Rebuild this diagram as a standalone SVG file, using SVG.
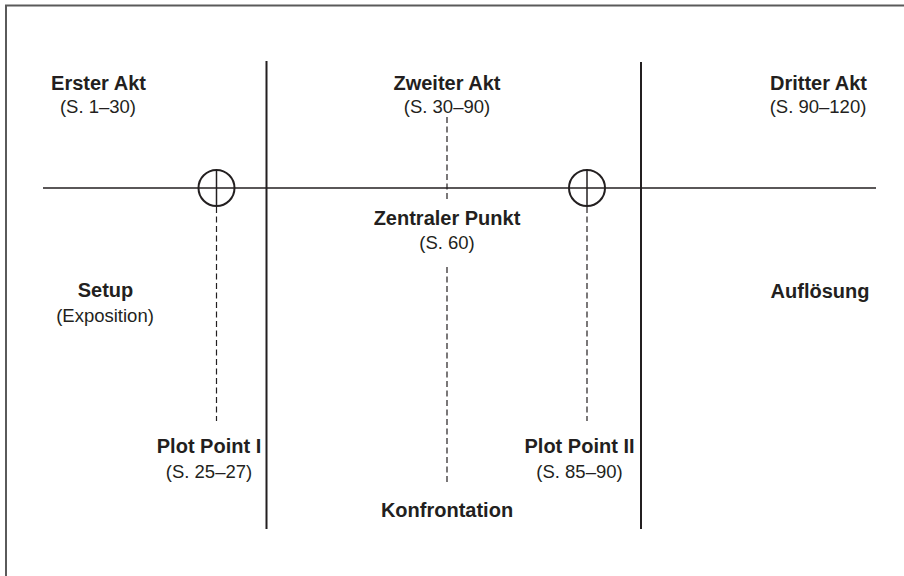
<svg xmlns="http://www.w3.org/2000/svg" width="904" height="576" viewBox="0 0 904 576">
  <style>
    .frame { stroke: #5a5a5a; stroke-width: 2; fill: none; }
    .axis { stroke: #231f20; stroke-width: 1.6; fill: none; }
    .act { stroke: #231f20; stroke-width: 2; fill: none; }
    .dash { stroke: #231f20; stroke-width: 1.2; stroke-dasharray: 6 3.5; fill: none; }
    .tick { stroke: #231f20; stroke-width: 1.5; fill: none; }
    .ring { stroke: #231f20; stroke-width: 2; fill: none; }
    text { font-family: "Liberation Sans", Arial, sans-serif; fill: #231f20; text-anchor: middle; }
    .h { font-weight: bold; font-size: 20px; }
    .s { font-size: 18.5px; }
  </style>
  <rect width="904" height="576" fill="#ffffff"/>

  <!-- outer frame (top and left edges) -->
  <g id="frame">
    <line class="frame" x1="5" y1="5.5" x2="904" y2="5.5"/>
    <line class="frame" x1="6" y1="5" x2="6" y2="576"/>
  </g>

  <!-- timeline, act boundaries and marker lines -->
  <g id="connectors">
    <line class="axis" x1="43" y1="188" x2="876" y2="188"/>
    <line class="act" x1="266.5" y1="61" x2="266.5" y2="529"/>
    <line class="act" x1="641" y1="62" x2="641" y2="529"/>
    <line class="dash" x1="447" y1="117" x2="447" y2="201"/>
    <line class="dash" x1="447" y1="267" x2="447" y2="483"/>
    <line class="dash" x1="216.5" y1="207" x2="216.5" y2="421"/>
    <line class="dash" x1="587" y1="207" x2="587" y2="421"/>
  </g>

  <!-- plot point markers -->
  <g id="plot-point-1-marker">
    <circle class="ring" cx="216.5" cy="188" r="18"/>
    <line class="tick" x1="216.5" y1="170" x2="216.5" y2="206"/>
  </g>
  <g id="plot-point-2-marker">
    <circle class="ring" cx="587" cy="188" r="18"/>
    <line class="tick" x1="587" y1="170" x2="587" y2="206"/>
  </g>

  <g id="act-1">
    <text class="h" x="98.5" y="90">Erster Akt</text>
    <text class="s" x="98" y="113">(S. 1–30)</text>
  </g>
  <g id="act-2">
    <text class="h" x="447" y="90">Zweiter Akt</text>
    <text class="s" x="447" y="113">(S. 30–90)</text>
  </g>
  <g id="act-3">
    <text class="h" x="818.5" y="90">Dritter Akt</text>
    <text class="s" x="818" y="113">(S. 90–120)</text>
  </g>
  <g id="midpoint">
    <text class="h" x="447" y="225">Zentraler Punkt</text>
    <text class="s" x="447" y="249">(S. 60)</text>
  </g>
  <g id="setup">
    <text class="h" x="105.5" y="297">Setup</text>
    <text class="s" x="105" y="322">(Exposition)</text>
  </g>
  <g id="resolution">
    <text class="h" x="820" y="298">Auflösung</text>
  </g>
  <g id="plot-point-1">
    <text class="h" x="209" y="453">Plot Point I</text>
    <text class="s" x="209" y="478">(S. 25–27)</text>
  </g>
  <g id="plot-point-2">
    <text class="h" x="579.5" y="453">Plot Point II</text>
    <text class="s" x="579.5" y="478">(S. 85–90)</text>
  </g>
  <g id="confrontation">
    <text class="h" x="447" y="517">Konfrontation</text>
  </g>
</svg>
